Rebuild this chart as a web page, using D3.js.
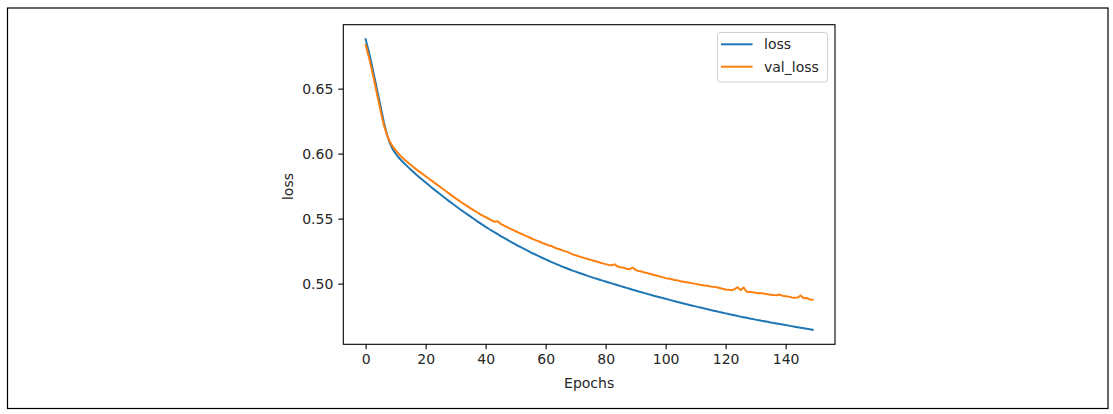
<!DOCTYPE html>
<html>
<head>
<meta charset="utf-8">
<script src="https://cdn.jsdelivr.net/npm/d3@7"></script>
<style>
  html, body { margin: 0; padding: 0; background: #fff; }
  svg { display: block; }
  text { font-family: "DejaVu Sans", sans-serif; fill: #262626; }
</style>
</head>
<body>
<svg id="chart" width="1113" height="414"></svg>
<script>
// ---- data ----
const seriesNames = ["loss", "val_loss"];
const seriesColors = ["#1f77b4", "#ff7f0e"];
const xTicks = [0, 20, 40, 60, 80, 100, 120, 140];
const yTicks = [0.50, 0.55, 0.60, 0.65];
const xLabel = "Epochs";
const yLabel = "loss";

const loss = [
  0.6880, 0.6790, 0.6690, 0.6580, 0.6470, 0.6360, 0.6250, 0.6155, 0.6085, 0.6035,
  0.6000, 0.5970, 0.5945, 0.5922, 0.5900, 0.5878, 0.5857, 0.5836, 0.5816, 0.5797,
  0.5778, 0.5759, 0.5740, 0.5721, 0.5703, 0.5685, 0.5667, 0.5649, 0.5631, 0.5614,
  0.5597, 0.5580, 0.5563, 0.5547, 0.5531, 0.5515, 0.5499, 0.5483, 0.5467, 0.5452,
  0.5437, 0.5422, 0.5408, 0.5394, 0.5380, 0.5366, 0.5353, 0.5340, 0.5327, 0.5314,
  0.5301, 0.5289, 0.5277, 0.5265, 0.5253, 0.5241, 0.5230, 0.5219, 0.5208, 0.5197,
  0.5186, 0.5176, 0.5166, 0.5156, 0.5146, 0.5136, 0.5127, 0.5118, 0.5109, 0.5100,
  0.5092, 0.5084, 0.5076, 0.5068, 0.5060, 0.5052, 0.5044, 0.5037, 0.5030, 0.5023,
  0.5016, 0.5009, 0.5002, 0.4995, 0.4988, 0.4981, 0.4974, 0.4967, 0.4960, 0.4953,
  0.4947, 0.4940, 0.4933, 0.4927, 0.4920, 0.4914, 0.4907, 0.4901, 0.4895, 0.4889,
  0.4883, 0.4877, 0.4871, 0.4865, 0.4859, 0.4853, 0.4847, 0.4842, 0.4836, 0.4830,
  0.4825, 0.4819, 0.4814, 0.4808, 0.4803, 0.4797, 0.4792, 0.4787, 0.4781, 0.4776,
  0.4771, 0.4766, 0.4761, 0.4756, 0.4751, 0.4746, 0.4742, 0.4737, 0.4732, 0.4728,
  0.4723, 0.4719, 0.4714, 0.4710, 0.4706, 0.4701, 0.4697, 0.4693, 0.4689, 0.4685,
  0.4681, 0.4677, 0.4673, 0.4669, 0.4665, 0.4661, 0.4657, 0.4653, 0.4649, 0.4645
];

const valLoss = [
  0.6836, 0.6750, 0.6650, 0.6545, 0.6435, 0.6325, 0.6225, 0.6150, 0.6095, 0.6055,
  0.6025, 0.5998, 0.5974, 0.5953, 0.5933, 0.5914, 0.5895, 0.5877, 0.5860, 0.5843,
  0.5826, 0.5809, 0.5792, 0.5775, 0.5758, 0.5741, 0.5724, 0.5707, 0.5690, 0.5673,
  0.5656, 0.5640, 0.5624, 0.5609, 0.5594, 0.5579, 0.5565, 0.5551, 0.5537, 0.5524,
  0.5511, 0.5499, 0.5487, 0.5476, 0.5479, 0.5460, 0.5448, 0.5437, 0.5425, 0.5414,
  0.5403, 0.5392, 0.5382, 0.5371, 0.5361, 0.5351, 0.5341, 0.5331, 0.5322, 0.5312,
  0.5303, 0.5294, 0.5289, 0.5277, 0.5268, 0.5262, 0.5252, 0.5246, 0.5237, 0.5225,
  0.5218, 0.5210, 0.5204, 0.5196, 0.5189, 0.5183, 0.5176, 0.5170, 0.5163, 0.5156,
  0.5150, 0.5144, 0.5141, 0.5148, 0.5131, 0.5126, 0.5122, 0.5114, 0.5110, 0.5124,
  0.5104, 0.5097, 0.5093, 0.5085, 0.5081, 0.5074, 0.5066, 0.5063, 0.5055, 0.5050,
  0.5042, 0.5040, 0.5033, 0.5028, 0.5025, 0.5018, 0.5015, 0.5010, 0.5006, 0.5002,
  0.4998, 0.4993, 0.4990, 0.4986, 0.4983, 0.4978, 0.4975, 0.4972, 0.4966, 0.4960,
  0.4955, 0.4952, 0.4949, 0.4958, 0.4972, 0.4950, 0.4970, 0.4938, 0.4936, 0.4933,
  0.4929, 0.4926, 0.4927, 0.4922, 0.4918, 0.4915, 0.4912, 0.4910, 0.4916, 0.4906,
  0.4903, 0.4900, 0.4894, 0.4892, 0.4893, 0.4909, 0.4888, 0.4890, 0.4878, 0.4876
];

const series = [loss, valLoss];

// ---- layout ----
const svg = d3.select("#chart");
const W = 1113, H = 414;
const plot = { left: 343.3, right: 835, top: 24.7, bottom: 344.3 };

svg.append("rect").attr("width", W).attr("height", H).attr("fill", "#fff");
// outer frame
svg.append("rect")
  .attr("x", 7.5).attr("y", 8)
  .attr("width", 1100.5).attr("height", 400.5)
  .attr("fill", "none").attr("stroke", "#000").attr("stroke-width", 1.2);

// scales: matplotlib-style 5% margins
const n = loss.length;
const xMin = 0, xMax = n - 1;
const xPad = (xMax - xMin) * 0.05;
const x = d3.scaleLinear().domain([xMin - xPad, xMax + xPad]).range([plot.left, plot.right]);

const allVals = loss.concat(valLoss);
const yLo = d3.min(allVals), yHi = d3.max(allVals);
const yPad = (yHi - yLo) * 0.05;
const y = d3.scaleLinear().domain([yLo - yPad, yHi + yPad]).range([plot.bottom, plot.top]);

// lines
const line = d3.line().x((d, i) => x(i)).y(d => y(d));
const clip = svg.append("clipPath").attr("id", "clip")
  .append("rect").attr("x", plot.left).attr("y", plot.top)
  .attr("width", plot.right - plot.left).attr("height", plot.bottom - plot.top);

series.forEach((s, k) => {
  svg.append("path")
    .datum(s)
    .attr("d", line)
    .attr("fill", "none")
    .attr("stroke", seriesColors[k])
    .attr("stroke-width", 2)
    .attr("stroke-linejoin", "round")
    .attr("stroke-linecap", "square")
    .attr("clip-path", "url(#clip)");
});

// axes
const xAxis = d3.axisBottom(x).tickValues(xTicks).tickSize(5).tickPadding(5).tickFormat(d3.format("d"));
const yAxis = d3.axisLeft(y).tickValues(yTicks).tickSize(5).tickPadding(5).tickFormat(d3.format(".2f"));

const gx = svg.append("g").attr("transform", `translate(0,${plot.bottom})`).call(xAxis);
const gy = svg.append("g").attr("transform", `translate(${plot.left},0)`).call(yAxis);
[gx, gy].forEach(g => {
  g.select(".domain").remove();
  g.selectAll(".tick line").attr("stroke", "#000").attr("stroke-width", 1.1);
  g.selectAll(".tick text").attr("font-size", "14px").attr("fill", "#262626")
    .attr("font-family", "DejaVu Sans, sans-serif");
});

// spines (box)
svg.append("rect")
  .attr("x", plot.left).attr("y", plot.top)
  .attr("width", plot.right - plot.left).attr("height", plot.bottom - plot.top)
  .attr("fill", "none").attr("stroke", "#000").attr("stroke-width", 1.1);

// axis labels
svg.append("text")
  .attr("x", (plot.left + plot.right) / 2).attr("y", 388)
  .attr("text-anchor", "middle").attr("font-size", "14px")
  .text(xLabel);

svg.append("text")
  .attr("transform", `translate(293,${(plot.top + plot.bottom) / 2 + 2}) rotate(-90)`)
  .attr("text-anchor", "middle").attr("font-size", "14px")
  .text(yLabel);

// legend
const lg = svg.append("g");
lg.append("rect")
  .attr("x", 717.5).attr("y", 32.5).attr("width", 110).attr("height", 49.5)
  .attr("rx", 3).attr("ry", 3)
  .attr("fill", "#fff").attr("fill-opacity", 0.8)
  .attr("stroke", "#d0d0d0").attr("stroke-width", 1);
seriesNames.forEach((name, k) => {
  const yy = 44.3 + k * 22.4;
  lg.append("line")
    .attr("x1", 721).attr("x2", 752.5).attr("y1", yy).attr("y2", yy)
    .attr("stroke", seriesColors[k]).attr("stroke-width", 2);
  lg.append("text")
    .attr("x", 764).attr("y", yy + 5)
    .attr("font-size", "14px")
    .text(name);
});
</script>
</body>
</html>
